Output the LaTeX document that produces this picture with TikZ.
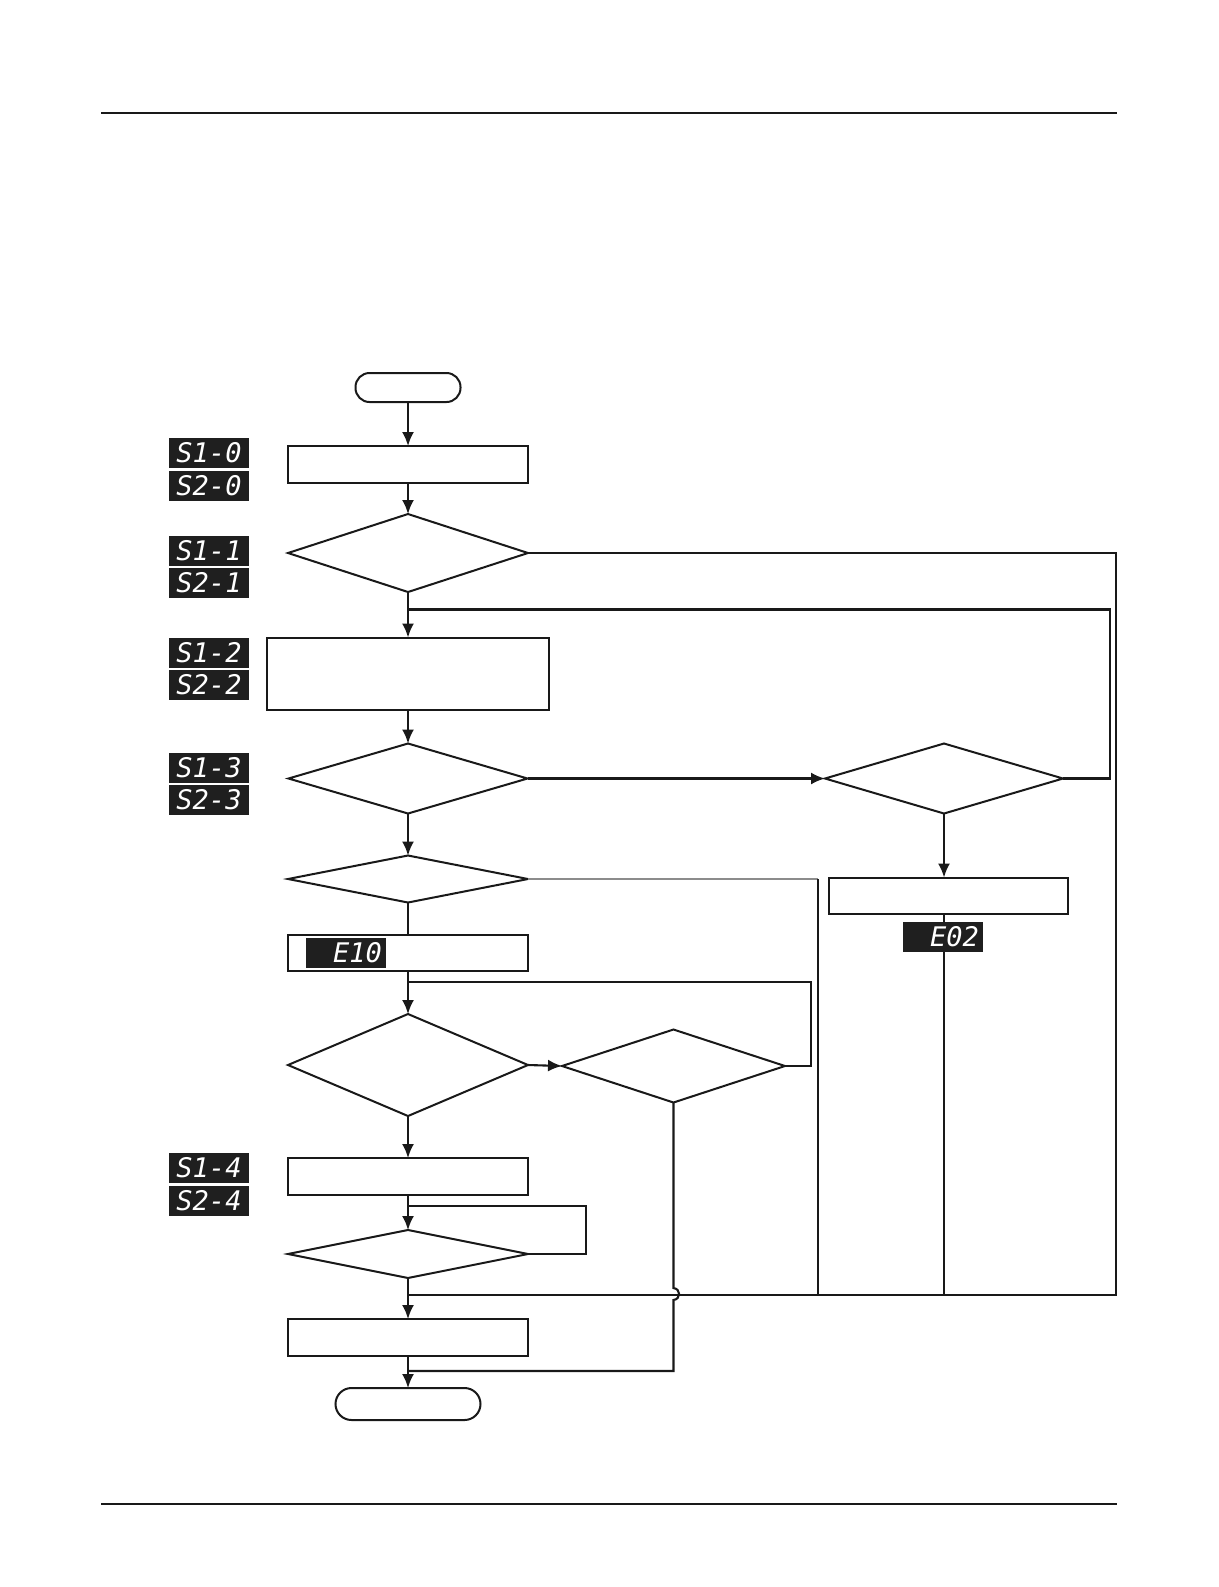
\documentclass[tikz,border=0pt]{standalone}
\usepackage{fontspec}
\newfontfamily\segfont{DejaVu Sans Mono}
\usetikzlibrary{shapes.geometric,arrows.meta}
\begin{document}
\begin{tikzpicture}[x=0.5pt,y=-0.5pt,
  line width=1pt,
  boxn/.style={draw=black!90, line width=1pt, rectangle, inner sep=0pt, outer sep=0pt, minimum width=120pt, minimum height=18.5pt},
  dia/.style={draw=black!90, line width=1pt, diamond, inner sep=0pt, outer sep=0pt, minimum width=120pt},
  term/.style={draw=black!90, line width=1pt, rectangle, rounded corners=7pt, inner sep=0pt, outer sep=0pt},
  seg/.style={fill=black!88, text=white, inner sep=0pt, outer sep=0pt, minimum width=40pt, minimum height=15pt, font=\segfont\itshape\fontsize{13.5}{13.5}\selectfont},
  arr/.style={-{Latex[length=7pt,width=6pt]}},
  ln/.style={draw=black!90, line width=1.05pt},
  rule/.style={draw=black!90, line width=1pt},
]
\useasboundingbox[fill=white] (0,0) rectangle (1219,1587);

% page rules
\coordinate (rt1) at (101,113.4);
\coordinate (rt2) at (1117,113.4);
\coordinate (rb1) at (101,1503.5);
\coordinate (rb2) at (1117,1503.5);
\draw[rule] (rt1) -- (rt2);
\draw[rule] (rb1) -- (rb2);

% main column
\node[term, minimum width=52.5pt, minimum height=14.5pt] (start) at (408,387.5) {};
\node[boxn] (box1) at (408,464.5) {};
\node[dia, minimum height=39pt] (d1) at (408,553) {};
\node[boxn, minimum width=141pt, minimum height=36pt] (box2) at (408,673.5) {};
\node[dia, minimum width=119.5pt, minimum height=35pt] (d2) at (408,778.5) {};
\node[dia, minimum height=23.5pt] (d3) at (408,879) {};
\node[boxn, minimum height=18pt] (e10) at (408,953) {};
\node[dia, minimum height=51pt] (d4) at (408,1065) {};
\node[boxn] (box4) at (408,1176.5) {};
\node[dia, minimum height=24pt] (d6) at (408,1254) {};
\node[boxn] (box5) at (408,1337.5) {};
\node[term, minimum width=72.5pt, minimum height=16pt, rounded corners=8pt] (end) at (408,1404) {};

% right side
\node[dia, minimum width=119pt, minimum height=35pt] (dR) at (944,778.5) {};
\node[boxn, minimum width=119.5pt, minimum height=18pt] (eR) at (948.5,895.5) {};
\node[dia, minimum width=111.5pt, minimum height=36.5pt] (d5) at (673.5,1066) {};

% junction coordinates
\coordinate (jA) at (408,609.5);
\coordinate (cA1) at (1110,778.5);
\coordinate (cA2) at (1110,609.5);
\coordinate (cB1) at (1116,553);
\coordinate (cB2) at (1116,1295);
\coordinate (jB) at (408,1295);
\coordinate (cG1) at (818,879);
\coordinate (cG2) at (818,1295);
\coordinate (cE2) at (944,1295);
\coordinate (jC) at (408,982);
\coordinate (cC1) at (811,1066);
\coordinate (cC2) at (811,982);
\coordinate (jD) at (408,1206);
\coordinate (cD1) at (586,1254);
\coordinate (cD2) at (586,1206);
\coordinate (h1) at (673.5,1288);
\coordinate (h2) at (673.5,1300);
\coordinate (cF1) at (673.5,1371);
\coordinate (jF) at (408,1371);

% main flow arrows
\draw[ln,arr] (start) -- (box1);
\draw[ln,arr] (box1) -- (d1);
\draw[ln,arr] (d1) -- (box2);
\draw[ln,arr] (box2) -- (d2);
\draw[ln,arr] (d2) -- (d3);
\draw[ln] (d3) -- (e10);
\draw[ln,arr] (e10) -- (d4);
\draw[ln,arr] (d4) -- (box4);
\draw[ln,arr] (box4) -- (d6);
\draw[ln,arr] (d6) -- (box5);
\draw[ln,arr] (box5) -- (end);

% branches
\draw[ln,arr] (d2.east) -- (dR.west);
\draw[ln] (dR.east) -- (cA1) -- (cA2) -- (jA);
\draw[ln] (d1.east) -- (cB1) -- (cB2) -- (jB);
\draw[ln,arr] (dR.south) -- (dR.south |- eR.north);
\draw[ln] (dR.south |- eR.south) -- (cE2);
\draw[draw=black!45, line width=0.8pt] (d3.east) -- (cG1);
\draw[ln] (cG1) -- (cG2);
\draw[ln,arr] (d4.east) -- (d5.west);
\draw[ln] (d5.east) -- (cC1) -- (cC2) -- (jC);
\draw[ln] (d6.east) -- (cD1) -- (cD2) -- (jD);
\draw[ln] (d5.south) -- (h1) .. controls (681,1289) and (681,1299) .. (h2) -- (cF1) -- (jF);

% seven-segment displays
\node[seg] (s10) at (209,453) {S1-0};
\node[seg] (s20) at (209,485.5) {S2-0};
\node[seg] (s11) at (209,550.5) {S1-1};
\node[seg] (s21) at (209,583) {S2-1};
\node[seg] (s12) at (209,652.5) {S1-2};
\node[seg] (s22) at (209,684.5) {S2-2};
\node[seg] (s13) at (209,768) {S1-3};
\node[seg] (s23) at (209,799.5) {S2-3};
\node[seg] (s14) at (209,1168) {S1-4};
\node[seg] (s24) at (209,1201) {S2-4};
\node[seg, text width=36pt, align=right] (de10) at (346,953) {E10};
\node[seg, text width=36pt, align=right] (de02) at (943,936.5) {E02};
\end{tikzpicture}
\end{document}
